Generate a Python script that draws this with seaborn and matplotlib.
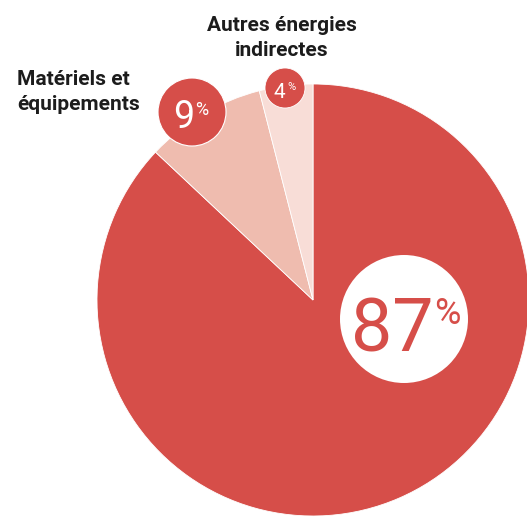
import matplotlib
matplotlib.use("Agg")
import matplotlib.pyplot as plt
from matplotlib.patches import Circle
import seaborn as sns

# Data
categories = ["Énergie directe", "Matériels et équipements", "Autres énergies indirectes"]
values = [87, 9, 4]
pct_labels = ["87", "9", "4"]

sns.set_theme(style="white")
plt.rcParams['font.family'] = ['Roboto', 'DejaVu Sans']

RED = "#D64E49"
colors = [RED, "#EFBCAF", "#F8DDD7"]

W, H = 527, 518
fig = plt.figure(figsize=(W / 100, H / 100), dpi=100)
ax = fig.add_axes([0, 0, 1, 1])

def Y(y):
    return H - y

ax.pie(values, colors=colors, startangle=90, counterclock=False,
       center=(313, Y(300)), radius=216, frame=True,
       wedgeprops=dict(linewidth=0.6, edgecolor="white"))
ax.set_xlim(0, W)
ax.set_ylim(0, H)
ax.set_aspect("equal")
ax.axis("off")

# badge circles
ax.add_patch(Circle((404, Y(319)), 64, facecolor="white", edgecolor="none", zorder=5))
ax.add_patch(Circle((192, Y(112)), 34, facecolor=RED, edgecolor="white", linewidth=0.8, zorder=5))
ax.add_patch(Circle((285, Y(88)), 20, facecolor=RED, edgecolor="white", linewidth=0.6, zorder=5))

numfont = ['Roboto', 'DejaVu Sans']
# 87%
ax.text(392, Y(352), pct_labels[0], fontsize=53, fontweight="normal", color=RED,
        ha="center", va="baseline", family=numfont, zorder=6)
ax.text(447, Y(324), "%", fontsize=26, fontweight="normal", color=RED,
        ha="center", va="baseline", family=numfont, zorder=6)
# 9%
ax.text(184, Y(128), pct_labels[1], fontsize=27, fontweight="normal", color="white",
        ha="center", va="baseline", family=numfont, zorder=6)
ax.text(202, Y(115), "%", fontsize=13, fontweight="normal", color="white",
        ha="center", va="baseline", family=numfont, zorder=6)
# 4%
ax.text(279.5, Y(98), pct_labels[2], fontsize=15, fontweight="normal", color="white",
        ha="center", va="baseline", family=numfont, zorder=6)
ax.text(291, Y(90), "%", fontsize=8, fontweight="normal", color="white",
        ha="center", va="baseline", family=numfont, zorder=6)

labfont = ['Roboto', 'DejaVu Sans']
TXT = "#1c1c1c"
ax.text(282, Y(31), "Autres énergies", fontsize=15, fontweight="bold", color=TXT,
        ha="center", va="baseline", family=labfont)
ax.text(282, Y(56), "indirectes", fontsize=15, fontweight="bold", color=TXT,
        ha="center", va="baseline", family=labfont)
ax.text(17, Y(85), "Matériels et", fontsize=15, fontweight="bold", color=TXT,
        ha="left", va="baseline", family=labfont)
ax.text(17, Y(110), "équipements", fontsize=15, fontweight="bold", color=TXT,
        ha="left", va="baseline", family=labfont)

fig.savefig("out.png", dpi=100)
